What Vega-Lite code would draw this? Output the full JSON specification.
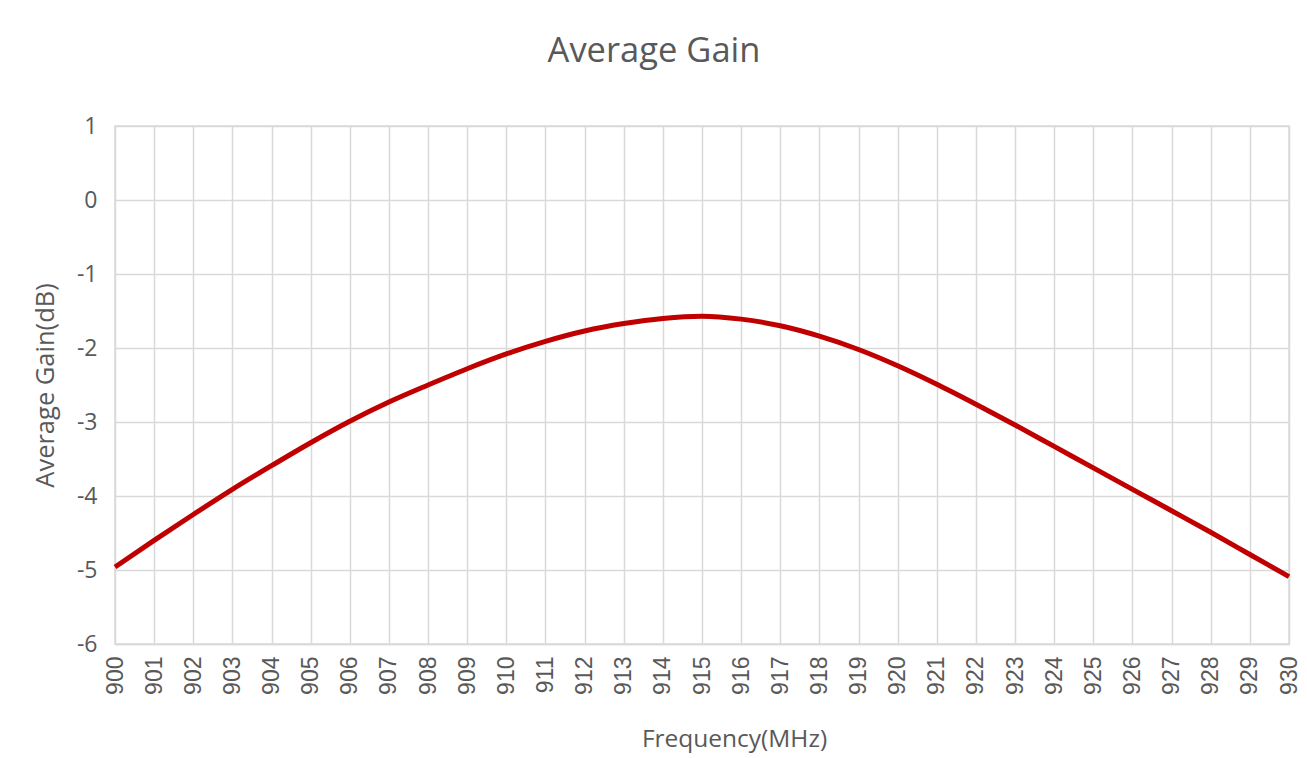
{
  "$schema": "https://vega.github.io/schema/vega-lite/v6.json",
  "width": 1174,
  "height": 518,
  "autosize": {"type": "none"},
  "padding": {"left": 115, "top": 126, "right": 18, "bottom": 114},
  "background": "white",
  "title": {
    "text": "Average Gain",
    "fontSize": 34.5,
    "font": "Open Sans",
    "fontWeight": 400,
    "color": "#595959",
    "anchor": "middle",
    "dx": -48,
    "offset": 46
  },
  "data": {
    "values": [
      {"f": 900, "g": -4.96},
      {"f": 901, "g": -4.6},
      {"f": 902, "g": -4.25},
      {"f": 903, "g": -3.91},
      {"f": 904, "g": -3.59},
      {"f": 905, "g": -3.28},
      {"f": 906, "g": -2.99},
      {"f": 907, "g": -2.73},
      {"f": 908, "g": -2.5},
      {"f": 909, "g": -2.28},
      {"f": 910, "g": -2.08},
      {"f": 911, "g": -1.91},
      {"f": 912, "g": -1.77},
      {"f": 913, "g": -1.67},
      {"f": 914, "g": -1.6},
      {"f": 915, "g": -1.57},
      {"f": 916, "g": -1.61},
      {"f": 917, "g": -1.7},
      {"f": 918, "g": -1.84},
      {"f": 919, "g": -2.02},
      {"f": 920, "g": -2.24},
      {"f": 921, "g": -2.49},
      {"f": 922, "g": -2.76},
      {"f": 923, "g": -3.04},
      {"f": 924, "g": -3.33},
      {"f": 925, "g": -3.62},
      {"f": 926, "g": -3.91},
      {"f": 927, "g": -4.2},
      {"f": 928, "g": -4.49},
      {"f": 929, "g": -4.79},
      {"f": 930, "g": -5.09}
    ]
  },
  "mark": {"type": "line", "color": "#C00000", "strokeWidth": 5, "interpolate": "monotone", "clip": false},
  "encoding": {
    "x": {
      "field": "f",
      "type": "quantitative",
      "scale": {"domain": [900, 930], "nice": false, "zero": false},
      "axis": {
        "values": [900,901,902,903,904,905,906,907,908,909,910,911,912,913,914,915,916,917,918,919,920,921,922,923,924,925,926,927,928,929,930],
        "title": "Frequency(MHz)",
        "labelAngle": -90,
        "labelAlign": "right",
        "labelBaseline": "middle",
        "labelPadding": 12,
        "labelFont": "Liberation Sans",
        "labelFontSize": 23,
        "labelFontWeight": 400,
        "labelOverlap": false,
        "labelFlush": false,
        "ticks": false,
        "titleFontSize": 24.5,
        "titleX": 619,
        "titleAnchor": null,
        "titleAlign": "center",
        "titlePadding": 33
      }
    },
    "y": {
      "field": "g",
      "type": "quantitative",
      "scale": {"domain": [-6, 1], "nice": false, "zero": false},
      "axis": {
        "values": [-6,-5,-4,-3,-2,-1,0,1],
        "labelExpr": "datum.value < 0 ? '-' + abs(datum.value) : '' + datum.value",
        "title": "Average Gain(dB)",
        "labelPadding": 18,
        "labelFontSize": 23,
        "ticks": false,
        "domain": false,
        "titleFontSize": 25.5,
        "titlePadding": 18
      }
    }
  },
  "config": {
    "view": {"stroke": "#d9d9d9", "strokeWidth": 1.5},
    "axis": {
      "labelFont": "Open Sans",
      "titleFont": "Open Sans",
      "labelColor": "#595959",
      "titleColor": "#595959",
      "labelFontWeight": 400,
      "titleFontWeight": 400,
      "gridColor": "#d9d9d9",
      "gridWidth": 1.5,
      "gridOpacity": 1,
      "domainColor": "#d9d9d9",
      "domainWidth": 1.5
    }
  }
}
